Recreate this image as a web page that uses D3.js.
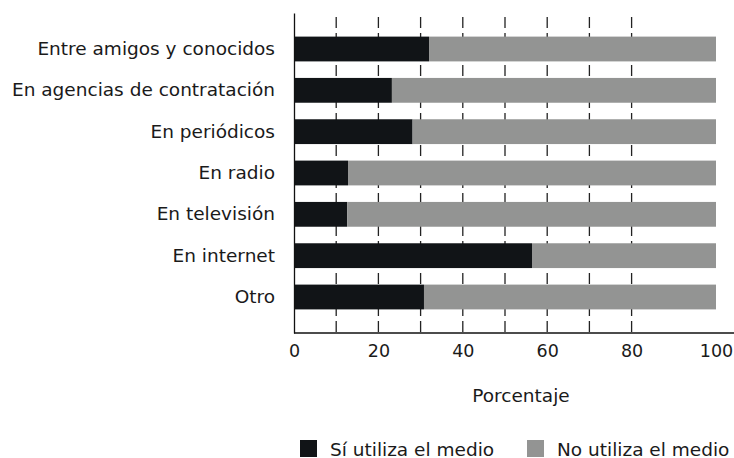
<!DOCTYPE html>
<html>
<head>
<meta charset="utf-8">
<script src="https://cdn.jsdelivr.net/npm/d3@7"></script>
<style>
  body { margin: 0; background: #fff; }
  text { font-family: "DejaVu Sans", sans-serif; fill: #1a1a1a; }
</style>
</head>
<body>
<div id="chart"></div>
<script>
// Data
const categories = ["Entre amigos y conocidos", "En agencias de contratación", "En periódicos",
  "En radio", "En televisión", "En internet", "Otro"];
const siUtiliza = [32.0, 23.2, 28.1, 12.8, 12.6, 56.4, 30.8];
const noUtiliza = siUtiliza.map(v => 100 - v);
const seriesNames = ["Sí utiliza el medio", "No utiliza el medio"];
const xTicks = [0, 20, 40, 60, 80, 100];
const gridTicks = [10, 20, 30, 40, 50, 60, 70, 80];

let width = 734, height = 458;
let margin = {top: 13, bottom: 125, left: 294, right: 18};
let fontSize = "17.5px";
let labelSize = "18.5px";

let svg = d3.select("#chart")
  .append("svg")
  .attr("width", width)
  .attr("height", height);

let x = d3.scaleLinear()
  .domain([0, 100])
  .range([margin.left, width - margin.right]);

let y = d3.scaleBand()
  .domain(categories)
  .range([margin.top, height - margin.bottom])
  .paddingInner(0.4)
  .paddingOuter(0.571);

const color = d3.scaleOrdinal()
  .domain(seriesNames)
  .range(["#111417", "#939493"]);

// dashed grid lines
svg.append("g")
  .selectAll("line")
  .data(gridTicks)
  .enter()
  .append("line")
  .attr("x1", d => x(d))
  .attr("x2", d => x(d))
  .attr("y1", margin.top + 4)
  .attr("y2", height - margin.bottom)
  .attr("stroke", "#222")
  .attr("stroke-width", 1.3)
  .attr("stroke-dasharray", "11,5");

// stacked bars
const rows = categories.map((c, i) => ({cat: c, si: siUtiliza[i], no: noUtiliza[i]}));

svg.append("g")
  .selectAll("rect")
  .data(rows)
  .enter()
  .append("rect")
  .attr("x", x(0))
  .attr("y", d => y(d.cat))
  .attr("width", d => x(d.si) - x(0))
  .attr("height", y.bandwidth())
  .attr("fill", color(seriesNames[0]));

svg.append("g")
  .selectAll("rect")
  .data(rows)
  .enter()
  .append("rect")
  .attr("x", d => x(d.si))
  .attr("y", d => y(d.cat))
  .attr("width", d => x(d.si + d.no) - x(d.si))
  .attr("height", y.bandwidth())
  .attr("fill", color(seriesNames[1]));

// y axis
let yAxis = svg.append("g")
  .attr("transform", `translate(${margin.left},0)`)
  .call(d3.axisLeft(y).tickSize(0).tickPadding(19));
yAxis.select(".domain").attr("stroke", "#111").attr("stroke-width", 1.3);
yAxis.selectAll("text")
  .style("font-family", "DejaVu Sans, sans-serif")
  .style("font-size", labelSize)
  .attr("fill", "#1a1a1a");

// x axis
let xAxis = svg.append("g")
  .attr("transform", `translate(0,${height - margin.bottom})`)
  .call(d3.axisBottom(x).tickValues(xTicks).tickSize(0).tickPadding(12));
xAxis.select(".domain")
  .attr("d", `M${margin.left},0H${width}`)
  .attr("stroke", "#111").attr("stroke-width", 1.3);
xAxis.selectAll("text")
  .style("font-family", "DejaVu Sans, sans-serif")
  .style("font-size", fontSize)
  .attr("fill", "#1a1a1a");

// x axis label
svg.append("text")
  .attr("x", (margin.left + width - margin.right) / 2 + 16)
  .attr("y", 402)
  .attr("text-anchor", "middle")
  .style("font-size", labelSize)
  .text("Porcentaje");

// legend
const legend = svg.append("g")
  .attr("transform", "translate(300, 440)");

seriesNames.forEach((name, i) => {
  legend.append("rect")
    .attr("x", i * 227)
    .attr("y", 0)
    .attr("width", 17)
    .attr("height", 17)
    .attr("fill", color(name));
  legend.append("text")
    .attr("x", i * 227 + 30)
    .attr("y", 9)
    .attr("dominant-baseline", "central")
    .style("font-size", labelSize)
    .text(name);
});
</script>
</body>
</html>
